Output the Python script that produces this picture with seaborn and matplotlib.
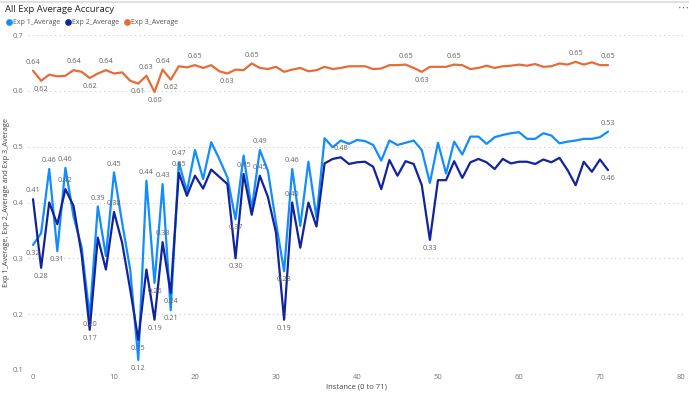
import numpy as np
import pandas as pd
import matplotlib
matplotlib.use("Agg")
import matplotlib.pyplot as plt
from matplotlib.lines import Line2D
import seaborn as sns

# valeurs
instance = list(range(72))

exp1 = [0.324, 0.345, 0.460, 0.313, 0.462, 0.375, 0.320, 0.196, 0.393, 0.304,
        0.454, 0.364, 0.280, 0.118, 0.439, 0.256, 0.433, 0.207, 0.472, 0.420,
        0.494, 0.442, 0.508, 0.478, 0.445, 0.370, 0.484, 0.388, 0.494, 0.457,
        0.364, 0.277, 0.460, 0.358, 0.473, 0.373, 0.515, 0.499, 0.511, 0.505,
        0.512, 0.510, 0.503, 0.475, 0.511, 0.503, 0.507, 0.511, 0.494, 0.435,
        0.507, 0.452, 0.509, 0.486, 0.518, 0.518, 0.505, 0.517, 0.521, 0.524,
        0.526, 0.514, 0.514, 0.524, 0.520, 0.506, 0.509, 0.511, 0.514, 0.514,
        0.517, 0.527]

exp2 = [0.406, 0.283, 0.400, 0.361, 0.424, 0.394, 0.307, 0.172, 0.337, 0.280,
        0.383, 0.328, 0.244, 0.154, 0.280, 0.190, 0.329, 0.238, 0.453, 0.412,
        0.448, 0.425, 0.459, 0.446, 0.433, 0.300, 0.451, 0.378, 0.448, 0.410,
        0.346, 0.190, 0.400, 0.319, 0.400, 0.357, 0.470, 0.478, 0.481, 0.469,
        0.472, 0.473, 0.464, 0.424, 0.476, 0.448, 0.474, 0.469, 0.431, 0.333,
        0.440, 0.440, 0.474, 0.444, 0.472, 0.478, 0.472, 0.460, 0.478, 0.470,
        0.473, 0.473, 0.469, 0.477, 0.472, 0.480, 0.458, 0.431, 0.473, 0.455,
        0.477, 0.458]

exp3 = [0.636, 0.618, 0.629, 0.626, 0.627, 0.637, 0.634, 0.623, 0.631, 0.637,
        0.631, 0.633, 0.618, 0.613, 0.627, 0.598, 0.638, 0.620, 0.644, 0.642,
        0.646, 0.641, 0.646, 0.635, 0.631, 0.638, 0.637, 0.649, 0.641, 0.639,
        0.643, 0.634, 0.638, 0.641, 0.635, 0.637, 0.643, 0.639, 0.641, 0.644,
        0.644, 0.644, 0.639, 0.640, 0.646, 0.646, 0.647, 0.641, 0.634, 0.643,
        0.643, 0.643, 0.647, 0.646, 0.639, 0.641, 0.645, 0.641, 0.644, 0.645,
        0.647, 0.645, 0.648, 0.643, 0.644, 0.649, 0.647, 0.652, 0.647, 0.651,
        0.646, 0.646]

series_names = ["Exp 1_Average", "Exp 2_Average", "Exp 3_Average"]
colors = {"Exp 1_Average": "#118DFF", "Exp 2_Average": "#12239E", "Exp 3_Average": "#E66C37"}

# étiquettes visibles (indice -> au-dessus / en dessous)
labels_above = {
    "Exp 1_Average": [2, 4, 8, 10, 14, 16, 18, 28, 32, 71],
    "Exp 2_Average": [0, 4, 10, 16, 18, 26, 28, 32, 38],
    "Exp 3_Average": [0, 5, 9, 14, 16, 20, 27, 46, 52, 67, 71],
}
labels_below = {
    "Exp 1_Average": [0, 3, 7, 13, 15, 17, 25, 31],
    "Exp 2_Average": [1, 7, 13, 15, 17, 25, 31, 49, 71],
    "Exp 3_Average": [1, 7, 13, 15, 17, 24, 48],
}

df = pd.DataFrame({"instance": instance, "Exp 1_Average": exp1,
                   "Exp 2_Average": exp2, "Exp 3_Average": exp3})
long_df = df.melt(id_vars="instance", var_name="serie", value_name="valeur")

sns.set_theme(style="white")
plt.rcParams["font.family"] = ["Open Sans", "DejaVu Sans"]

fig = plt.figure(figsize=(6.89, 3.94), dpi=100)
ax = fig.add_axes([28 / 689, 24 / 394, 657 / 689, 335 / 394])

sns.lineplot(data=long_df, x="instance", y="valeur", hue="serie",
             hue_order=series_names, palette=colors, linewidth=1.6,
             legend=False, ax=ax)

for name, vals in zip(series_names, [exp1, exp2, exp3]):
    for i in labels_above[name]:
        ax.annotate(f"{vals[i]:.2f}", (instance[i], vals[i]), xytext=(0, 6),
                    textcoords="offset points", ha="center", va="center",
                    fontsize=5.3, color="#666666")
    for i in labels_below[name]:
        ax.annotate(f"{vals[i]:.2f}", (instance[i], vals[i]), xytext=(0, -6),
                    textcoords="offset points", ha="center", va="center",
                    fontsize=5.3, color="#666666")

ax.set_xlim(-0.62, 80.5)
ax.set_ylim(0.1, 0.7)
ax.set_xticks([0, 10, 20, 30, 40, 50, 60, 70, 80])
ax.set_yticks([0.1, 0.2, 0.3, 0.4, 0.5, 0.6, 0.7])
ax.set_yticklabels(["0.1", "0.2", "0.3", "0.4", "0.5", "0.6", "0.7"])
ax.tick_params(axis="both", labelsize=5.5, colors="#777777", length=0, pad=3)
ax.yaxis.grid(True, linestyle=(0, (1, 3)), color="#C8C8C8", linewidth=0.8)
ax.xaxis.grid(False)
for s in ax.spines.values():
    s.set_visible(False)

ax.set_xlabel("Instance (0 to 71)", fontsize=5.5, color="#444444", labelpad=2)
ax.set_ylabel("Exp 1_Average, Exp 2_Average and Exp 3_Average", fontsize=5.3,
              color="#444444", labelpad=2)

fig.text(5 / 689, 1 - 9 / 394, "All Exp Average Accuracy", fontsize=6.8,
         color="#252423", ha="left", va="center")

handles = [Line2D([], [], marker="o", linestyle="", markersize=3.8,
                  color=colors[n]) for n in series_names]
fig.legend(handles, series_names, loc="center left",
           bbox_to_anchor=(-0.002, 1 - 23 / 394), ncol=3, frameon=False,
           fontsize=5, handletextpad=0.0, columnspacing=0.5,
           handlelength=1.2, labelcolor="#555555")

fig.text(683 / 689, 1 - 8 / 394, "⋯", fontsize=8, color="#666666",
         ha="center", va="center", family="DejaVu Sans")
fig.add_artist(Line2D([0, 1], [1 - 1.5 / 394, 1 - 1.5 / 394], color="#E0E0E0",
                      linewidth=1.5, transform=fig.transFigure))

fig.savefig("out.png", dpi=100, facecolor="white")
